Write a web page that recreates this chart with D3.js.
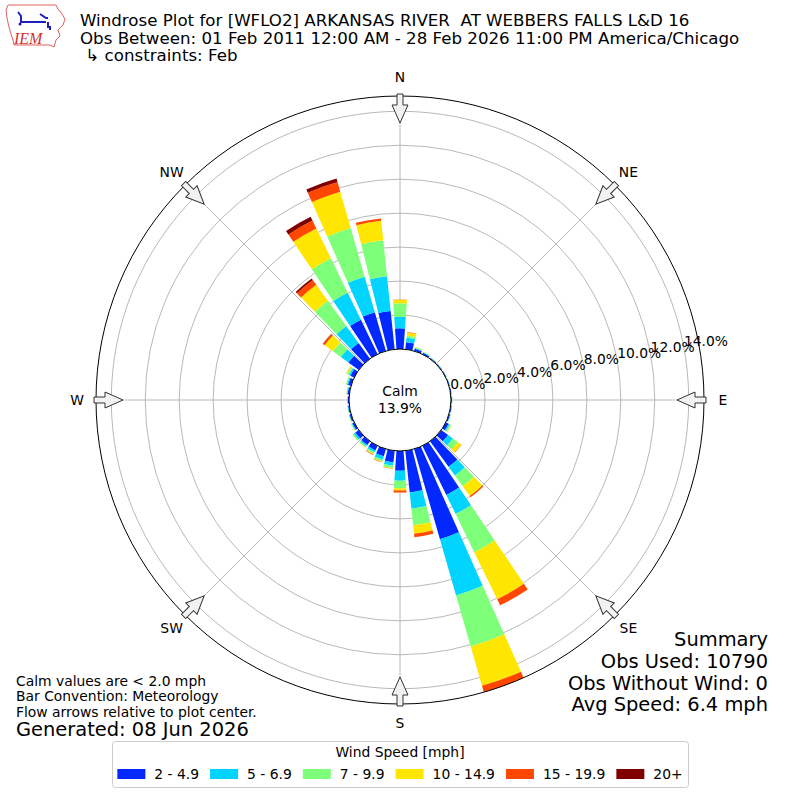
<!DOCTYPE html>
<html>
<head>
<meta charset="utf-8">
<script src="https://cdn.jsdelivr.net/npm/d3@7"></script>
<style>
  html, body { margin: 0; padding: 0; background: #fff; }
  svg { display: block; font-family: "DejaVu Sans", sans-serif; }
  text { white-space: pre; }
</style>
</head>
<body>
<svg id="chart" width="800" height="800"></svg>
<script>
// ---------------- DATA ----------------
const directions = d3.range(0, 360, 10); // bar directions (degrees, wind from)
const speedBins = ["2 - 4.9", "5 - 6.9", "7 - 9.9", "10 - 14.9", "15 - 19.9", "20+"];
const binColors = ["#0028ff", "#00d4ff", "#7dff7a", "#ffe600", "#ff4700", "#800000"];
// percent of observations per direction for each speed bin
const bin2to5   = [1.22,0.42,0.14,0.09,0.06,0.05,0.05,0.05,0.05,0.05,0.06,0.07,0.18,0.50,1.86,3.22,5.53,2.47,1.16,0.68,0.45,0.30,0.27,0.25,0.12,0.09,0.07,0.07,0.10,0.18,0.25,0.75,1.15,2.25,2.38,2.27];
const bin5to7   = [0.68,0.26,0.05,0.04,0.02,0.02,0.01,0.01,0.01,0.02,0.02,0.03,0.08,0.35,0.64,1.25,3.44,0.96,0.59,0.20,0.20,0.12,0.10,0.12,0.05,0.03,0.03,0.03,0.04,0.07,0.10,0.55,1.23,1.77,2.17,2.06];
const bin7to10  = [0.79,0.14,0.03,0.02,0.01,0.01,0.01,0.01,0.01,0.01,0.01,0.02,0.08,0.35,0.77,2.50,3.13,0.99,0.45,0.15,0.10,0.10,0.07,0.08,0.04,0.02,0.02,0.02,0.03,0.06,0.10,0.58,1.84,2.26,2.98,2.12];
const bin10to15 = [0.21,0.18,0.03,0.01,0.01,0.00,0.00,0.00,0.00,0.00,0.01,0.00,0.03,0.25,0.72,3.08,2.41,0.50,0.13,0.04,0.04,0.05,0.03,0.02,0.01,0.01,0.00,0.00,0.01,0.02,0.07,0.60,1.17,1.95,2.23,1.16];
const bin15to20 = [0.02,0.02,0.00,0.00,0.00,0.00,0.00,0.00,0.00,0.00,0.00,0.00,0.00,0.02,0.08,0.40,0.39,0.20,0.12,0.01,0.02,0.03,0.00,0.00,0.00,0.00,0.00,0.00,0.00,0.00,0.01,0.12,0.35,0.53,0.59,0.14];
const bin20plus = [0.00,0.00,0.00,0.00,0.00,0.00,0.00,0.00,0.00,0.00,0.00,0.00,0.00,0.00,0.00,0.00,0.00,0.00,0.00,0.00,0.00,0.00,0.00,0.00,0.00,0.00,0.00,0.00,0.00,0.00,0.00,0.02,0.10,0.24,0.21,0.00];
const ringTicks = [0, 2, 4, 6, 8, 10, 12, 14];
const compass = [["N",0],["NE",45],["E",90],["SE",135],["S",180],["SW",225],["W",270],["NW",315]];
const calmPct = "13.9%";
const titleLines = [
  "Windrose Plot for [WFLO2] ARKANSAS RIVER  AT WEBBERS FALLS L&D 16",
  "Obs Between: 01 Feb 2011 12:00 AM - 28 Feb 2026 11:00 PM America/Chicago",
  " \u21b3 constraints: Feb"
];
const summaryLines = ["Summary", "Obs Used: 10790", "Obs Without Wind: 0", "Avg Speed: 6.4 mph"];
const noteLines = ["Calm values are < 2.0 mph", "Bar Convention: Meteorology", "Flow arrows relative to plot center."];
const generatedText = "Generated: 08 Jun 2026";

// ---------------- LAYOUT ----------------
const svg = d3.select("#chart");
const cx = 400, cy = 400, calmR = 51, outerR = 304;
const fs10 = 13.89, fs12 = 16.67, fs14 = 19.44;
const series = [bin2to5, bin5to7, bin7to10, bin10to15, bin15to20, bin20plus];
const rows = directions.map((d, i) => {
  const o = { dir: d };
  speedBins.forEach((b, j) => o[b] = series[j][i]);
  return o;
});
const stacked = d3.stack().keys(speedBins)(rows);
const rmax = d3.max(rows, r => d3.sum(speedBins, b => r[b]));
const rScale = d3.scaleLinear().domain([0, rmax]).range([calmR, outerR]);
const angle = d3.scaleLinear().domain([0, 360]).range([0, 2 * Math.PI]);
const opening = 0.8;
const halfW = angle(10) * opening / 2;

const g = svg.append("g").attr("transform", `translate(${cx},${cy})`);

// grid circles
g.selectAll("circle.grid").data(ringTicks.filter(t => t > 0)).join("circle")
  .attr("r", d => rScale(d)).attr("fill", "none").attr("stroke", "#b0b0b0").attr("stroke-width", 0.9);
// radial lines
g.selectAll("line.rad").data(compass).join("line")
  .attr("x1", 0).attr("y1", 0)
  .attr("x2", d => outerR * Math.sin(angle(d[1])))
  .attr("y2", d => -outerR * Math.cos(angle(d[1])))
  .attr("stroke", "#b0b0b0").attr("stroke-width", 0.9);

// bars
const arc = d3.arc();
stacked.forEach((layer, j) => {
  g.append("g").selectAll("path").data(layer).join("path")
    .attr("d", d => {
      if (d[1] - d[0] <= 0) return null;
      const a = angle(d.data.dir);
      return arc({ innerRadius: rScale(d[0]), outerRadius: rScale(d[1]), startAngle: a - halfW, endAngle: a + halfW });
    })
    .attr("fill", binColors[j]);
});

// calm circle
g.append("circle").attr("r", calmR).attr("fill", "#fff").attr("stroke", "#000").attr("stroke-width", 1);
g.append("text").attr("x", 0).attr("y", -4).attr("text-anchor", "middle").attr("font-size", fs10).text("Calm");
g.append("text").attr("x", 0).attr("y", 12.5).attr("text-anchor", "middle").attr("font-size", fs10).text(calmPct);

// outer circle
g.append("circle").attr("r", outerR).attr("fill", "none").attr("stroke", "#000").attr("stroke-width", 1);

// ring labels
const labA = 10.4 * Math.PI / 180;
g.selectAll("text.ring").data(ringTicks).join("text")
  .attr("x", d => rScale(d) * Math.cos(labA))
  .attr("y", d => -rScale(d) * Math.sin(labA) - 2)
  .attr("font-size", fs10).text(d => d.toFixed(1) + "%");

// flow arrows (pointing to center)
const arrowPts = [[306, -3], [295, -3], [295, -8], [277, 0], [295, 8], [295, 3], [306, 3]];
g.selectAll("path.arrow").data(compass).join("path")
  .attr("d", d3.line()(arrowPts) + "Z")
  .attr("transform", d => `rotate(${d[1] - 90})`)
  .attr("fill", "#f2f2f2").attr("stroke", "#333").attr("stroke-width", 1);

// compass labels
g.selectAll("text.comp").data(compass).join("text")
  .attr("x", d => 323 * Math.sin(angle(d[1])))
  .attr("y", d => -323 * Math.cos(angle(d[1])))
  .attr("text-anchor", "middle").attr("dominant-baseline", "central")
  .attr("font-size", fs10).text(d => d[0]);

// title
svg.selectAll("text.title").data(titleLines).join("text")
  .attr("x", 80).attr("y", (d, i) => 26 + i * 17.5).attr("font-size", fs12).text(d => d);

// summary
svg.selectAll("text.sum").data(summaryLines).join("text")
  .attr("x", 768).attr("y", (d, i) => 646 + i * 21.8).attr("text-anchor", "end").attr("font-size", fs14).text(d => d);

// notes
const noteY = [685.5, 701, 716.5];
svg.selectAll("text.note").data(noteLines).join("text")
  .attr("x", 16).attr("y", (d, i) => noteY[i]).attr("font-size", fs10).text(d => d);
svg.append("text").attr("x", 16).attr("y", 736).attr("font-size", fs14).text(generatedText);

// legend
const leg = svg.append("g");
leg.append("rect").attr("x", 112.5).attr("y", 741.5).attr("width", 576).attr("height", 46).attr("rx", 3)
  .attr("fill", "#fff").attr("stroke", "#cccccc");
leg.append("text").attr("x", 400).attr("y", 757).attr("text-anchor", "middle").attr("font-size", fs10).text("Wind Speed [mph]");
const items = leg.selectAll("g.item").data(speedBins).join("g");
items.append("rect").attr("width", 28).attr("height", 10).attr("fill", (d, i) => binColors[i]);
items.append("text").attr("x", 37).attr("y", 10).attr("font-size", fs10).text(d => d);
let widths = [];
items.each(function () { widths.push(d3.select(this).select("text").node().getComputedTextLength()); });
const gap = 11;
const total = d3.sum(widths, w => 37 + w) + gap * (widths.length - 1);
let xpos = 400 - total / 2;
items.each(function (d, i) {
  d3.select(this).attr("transform", `translate(${xpos},769)`);
  xpos += 37 + widths[i] + gap;
});

// IEM logo
const logo = svg.append("g");
logo.append("path")
  .attr("d", "M8,5 L56,5 L58,9 L62,14 L65,19 L63,25 L58,30 L60,36 L56,40 L54,47 L50,45 L14,45 L13,40 L11,34 L9,27 L7,18 L6,10 Z")
  .attr("fill", "none").attr("stroke", "#e06060").attr("stroke-width", 1);
logo.append("path").attr("d", "M18,12 L21,16 L21,22 M20,22 L46,22 M40,14 L46,18 L48,18 M48,22 L48,28 M50,26 L50,30")
  .attr("fill", "none").attr("stroke", "#2020c0").attr("stroke-width", 2);
logo.append("circle").attr("cx", 20).attr("cy", 24).attr("r", 1.5).attr("fill", "#2020c0");
logo.append("text").attr("x", 14).attr("y", 44).attr("font-family", "Liberation Serif, DejaVu Serif, serif")
  .attr("font-style", "italic").attr("font-size", 16).attr("fill", "#d03030").text("IEM");
</script>
</body>
</html>
